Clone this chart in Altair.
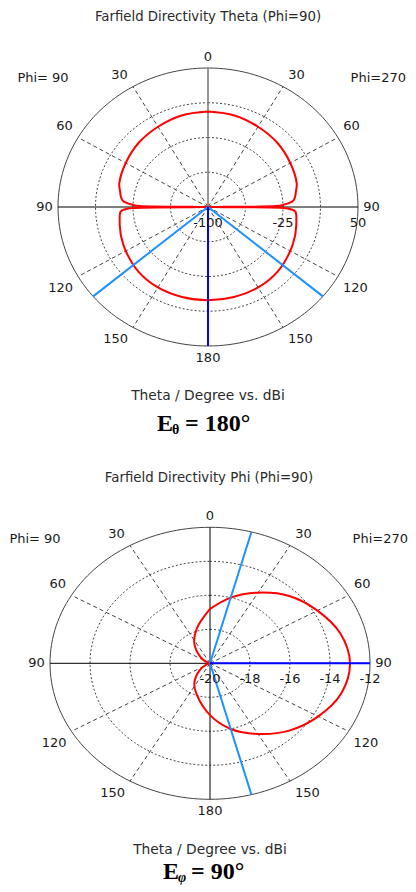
import altair as alt
import pandas as pd

# ---------------- values ----------------
# Panel 1 : Farfield Directivity Theta (Phi=90)
P1_TITLE = "Farfield Directivity Theta (Phi=90)"
P1_XLABEL = "Theta / Degree vs. dBi"
P1_RMIN, P1_RMAX = -100, 50
P1_TICK_VALUES = [-100, -25, 50]
P1_TICK_LABELS = ["-100", "-25", "50"]
# theta: clockwise from top; 0..180 = Phi=270 side (right), 180..360 = Phi=90 side (left)
P1_THETA = [0, 15, 30, 45, 60, 74, 80, 82, 85.7, 88.3, 89.2, 90, 90.8, 91.5, 93.3, 100, 105, 110,
            120, 135, 150, 165, 180,
            195, 210, 225, 240, 250, 255, 260, 266.7, 268.5, 269.2, 270, 270.8, 271.7, 274.3, 278,
            280, 286, 300, 315, 330, 345, 360]
P1_DBI = [3.0, 2.3, 0.0, -2.0, -5.0, -7.7, -10.9, -11.8, -14.8, -25, -32, -100, -24, -18, -12.5,
          -10.3, -9.0, -7.5, -5.0, -1.5, 0.2, 0.5, 0.5,
          0.5, 0.2, -1.5, -5.0, -7.5, -9.0, -10.3, -12.5, -18, -24, -100, -32, -25, -14.8, -11.8,
          -10.9, -7.7, -5.0, -2.0, 0.0, 2.3, 3.0]
P1_MAIN_DIR = [180]
P1_BEAM_DIRS = [130, 230]
P1_E_MAIN, P1_E_SUB, P1_E_REST = "E", "θ", "= 180°"

# Panel 2 : Farfield Directivity Phi (Phi=90)
P2_TITLE = "Farfield Directivity Phi (Phi=90)"
P2_XLABEL = "Theta / Degree vs. dBi"
P2_RMIN, P2_RMAX = -20, -12
P2_TICK_VALUES = [-20, -18, -16, -14, -12]
P2_TICK_LABELS = ["-20", "-18", "-16", "-14", "-12"]
P2_THETA = [0, 15, 30, 45, 60, 75, 90, 105, 120, 135, 150, 165, 180,
            200, 214, 232, 250, 270, 290, 308, 326, 342, 360]
P2_DBI = [-16.8, -16.0, -15.2, -14.4, -13.8, -13.25, -13.0, -13.2, -13.75, -14.4, -15.2, -16.0,
          -16.95, -18.05, -18.6, -19.35, -19.85, -20.0, -19.85, -19.4, -18.6, -17.85, -16.8]
P2_MAIN_DIR = [90]
P2_BEAM_DIRS = [15, 165]
P2_E_MAIN, P2_E_SUB, P2_E_REST = "E", "φ", "= 90°"

# common angular grid
RING_FRACS = [0.25, 0.5, 0.75]
SPOKES = [30, 60, 120, 150, 210, 240, 300, 330]
ANGLE_TICKS = [0, 30, 60, 90, 120, 150, 180, 210, 240, 270, 300, 330]
ANGLE_LABELS = ["0", "30", "60", "90", "120", "150", "180", "150", "120", "90", "60", "30"]
PHI_LEFT, PHI_RIGHT = "Phi= 90", "Phi=270"

# ---------------- layout / style ----------------
W = 400
FONT = "DejaVu Sans"
SERIF = "Liberation Serif"
TXT = "#1a1a1a"
RED = "#FF0000"
BLUE = "#0000FF"
LBLUE = "#1E90FF"
RAD = "PI / 180"


def panel(cfg):
    cx, cy, a, b, h = cfg["cx"], cfg["cy"], cfg["a"], cfg["b"], cfg["h"]
    xs = alt.Scale(domain=[-cx / a, (W - cx) / a], nice=False, zero=False)
    ys = alt.Scale(domain=[-(h - cy) / b, cy / b], nice=False, zero=False)
    X = lambda f: alt.X(f, type="quantitative", scale=xs, axis=None)
    Y = lambda f: alt.Y(f, type="quantitative", scale=ys, axis=None)
    rmin, rmax = cfg["rmin"], cfg["rmax"]

    ring_df = pd.DataFrame([{"r": r, "t": t} for r in RING_FRACS for t in range(0, 361, 3)])
    rings = alt.Chart(ring_df).transform_calculate(
        x=f"datum.r * sin(datum.t * {RAD})", y=f"datum.r * cos(datum.t * {RAD})"
    ).mark_line(color="#444444", strokeWidth=1, strokeDash=[2, 2]).encode(
        x=X("x"), y=Y("y"), detail="r:N", order="t:Q")

    outer_df = pd.DataFrame({"t": list(range(0, 361, 2))})
    outer = alt.Chart(outer_df).transform_calculate(
        x=f"sin(datum.t * {RAD})", y=f"cos(datum.t * {RAD})"
    ).mark_line(color="#444444", strokeWidth=1).encode(x=X("x"), y=Y("y"), order="t:Q")

    def rays(angles, color, width, dash=None, through=False):
        kw = dict(color=color, strokeWidth=width)
        if dash:
            kw["strokeDash"] = dash
        start = "-1" if through else "0"
        return alt.Chart(pd.DataFrame({"t": angles})).transform_calculate(
            x0=f"{start} * sin(datum.t * {RAD})", y0=f"{start} * cos(datum.t * {RAD})",
            x1=f"sin(datum.t * {RAD})", y1=f"cos(datum.t * {RAD})"
        ).mark_rule(**kw).encode(x=X("x0"), y=Y("y0"), x2="x1:Q", y2="y1:Q")

    spokes = rays(SPOKES, "#444444", 1, [4, 3])
    vaxis = rays([0], cfg["vcolor"], cfg["vwidth"], through=True)
    haxis = rays([90], "#000000", 1, through=True)

    curve_df = pd.DataFrame({"t": cfg["theta"], "v": cfg["dbi"], "i": range(len(cfg["theta"]))})
    curve = alt.Chart(curve_df).transform_calculate(
        f=f"max(0, (datum.v - ({rmin})) / ({rmax - rmin}))"
    ).transform_calculate(
        x=f"datum.f * sin(datum.t * {RAD})", y=f"datum.f * cos(datum.t * {RAD})"
    ).mark_line(color=RED, strokeWidth=2, interpolate="catmull-rom").encode(
        x=X("x"), y=Y("y"), order="i:Q")

    main = rays(cfg["main"], BLUE, 2)
    beam = rays(cfg["beam"], LBLUE, 2)

    lab_df = pd.DataFrame({"t": ANGLE_TICKS, "lab": ANGLE_LABELS})
    angle_labels = alt.Chart(lab_df).transform_calculate(
        s=f"sin(datum.t * {RAD})", c=f"cos(datum.t * {RAD})"
    ).transform_calculate(
        sx="datum.s > 0.01 ? 1 : (datum.s < -0.01 ? -1 : 0)",
        sy="datum.c > 0.01 ? 1 : (datum.c < -0.01 ? -1 : 0)",
    ).transform_calculate(
        x=f"datum.s + datum.sx * (6 + 3.8 * length(datum.lab)) / {a}",
        y=f"datum.c + datum.sy * 11.5 / {b}",
    ).mark_text(font=FONT, fontSize=13, color=TXT, baseline="middle", align="center").encode(
        x=X("x"), y=Y("y"), text="lab:N")

    tick_df = pd.DataFrame({"v": cfg["ticks"], "lab": cfg["tick_labels"]})
    tick_labels = alt.Chart(tick_df).transform_calculate(
        x=f"(datum.v - ({rmin})) / ({rmax - rmin})", y="0"
    ).mark_text(font=FONT, fontSize=13, color=TXT, baseline="middle", align="center", dy=16).encode(
        x=X("x"), y=Y("y"), text="lab:N")

    def label(text, x, y, **kw):
        style = dict(font=FONT, fontSize=13, color=TXT, baseline="middle", align="center")
        style.update(kw)
        return alt.Chart(pd.DataFrame({"s": [text]})).mark_text(**style).encode(
            x=alt.value(x), y=alt.value(y), text="s:N")

    texts = [
        label(cfg["title"], cfg["title_x"], cfg["title_y"], fontSize=13.3, color="#2a2a2a"),
        label(PHI_LEFT, cfg["phil_x"], cfg["phi_y"]),
        label(PHI_RIGHT, cfg["phir_x"], cfg["phi_y"], align="right"),
        label(cfg["xlabel"], cfg["xl_x"], cfg["xl_y"], fontSize=13.8, color="#2a2a2a"),
        label(cfg["e_main"], cfg["e_x"], cfg["e_base"], font=SERIF, fontSize=24, fontWeight="bold",
              color="#000000", align="left", baseline="alphabetic"),
        label(cfg["e_sub"], cfg["e_x"] + 15, cfg["e_base"] + 3, font=SERIF, fontSize=14,
              fontWeight="bold", fontStyle=cfg["sub_style"], color="#000000", align="left",
              baseline="alphabetic"),
        label(cfg["e_rest"], cfg["e_x"] + 28, cfg["e_base"], font=SERIF, fontSize=24,
              fontWeight="bold", color="#000000", align="left", baseline="alphabetic"),
    ]

    return alt.layer(rings, spokes, outer, vaxis, haxis, curve, beam, main,
                     angle_labels, tick_labels, *texts).properties(width=W, height=h)


p1 = panel(dict(cx=200, cy=199, a=150, b=139, h=438, rmin=P1_RMIN, rmax=P1_RMAX,
                theta=P1_THETA, dbi=P1_DBI, main=P1_MAIN_DIR, beam=P1_BEAM_DIRS,
                ticks=P1_TICK_VALUES, tick_labels=P1_TICK_LABELS,
                vcolor="#777777", vwidth=1.5,
                title=P1_TITLE, title_x=200, title_y=9, phil_x=35, phir_x=398, phi_y=70,
                xlabel=P1_XLABEL, xl_x=200, xl_y=388,
                e_main=P1_E_MAIN, e_sub=P1_E_SUB, e_rest=P1_E_REST, e_x=149, e_base=423,
                sub_style="normal"))

p2 = panel(dict(cx=202, cy=217.3, a=160, b=136, h=438, rmin=P2_RMIN, rmax=P2_RMAX,
                theta=P2_THETA, dbi=P2_DBI, main=P2_MAIN_DIR, beam=P2_BEAM_DIRS,
                ticks=P2_TICK_VALUES, tick_labels=P2_TICK_LABELS,
                vcolor="#000000", vwidth=1,
                title=P2_TITLE, title_x=201, title_y=32, phil_x=27, phir_x=400, phi_y=93,
                xlabel=P2_XLABEL, xl_x=202, xl_y=404,
                e_main=P2_E_MAIN, e_sub=P2_E_SUB, e_rest=P2_E_REST, e_x=155, e_base=433,
                sub_style="italic"))

chart = alt.vconcat(p1, p2, spacing=0, bounds="flush").properties(
    padding=0
).configure_view(stroke=None)

chart.save("out.html", embed_options={"renderer": "svg", "actions": False})
